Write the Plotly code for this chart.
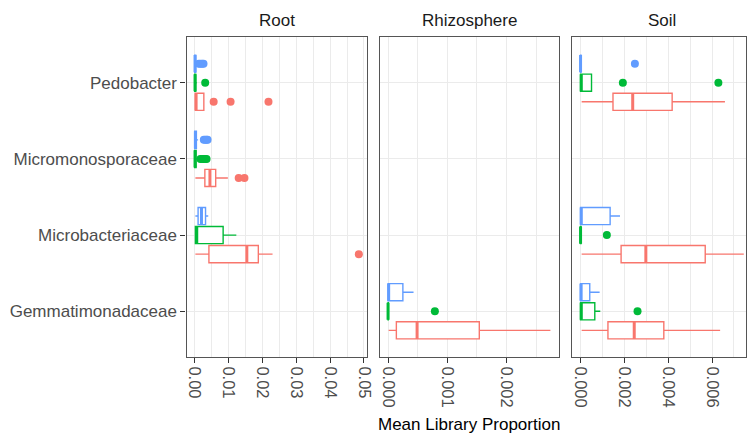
import plotly.graph_objects as go

# Categories from bottom to top of each panel
CATEGORIES = ["Gemmatimonadaceae", "Microbacteriaceae", "Micromonosporaceae", "Pedobacter"]
FACETS = ["Root", "Rhizosphere", "Soil"]

# Box summaries per category: (lower whisker, q1, median, q3, upper whisker); None = no samples
root_red = [None,
            (0.0002, 0.0042, 0.0154, 0.0188, 0.0230),
            (0.0002, 0.0030, 0.0045, 0.0062, 0.0098),
            (0.0001, 0.0002, 0.0004, 0.0027, 0.0027)]
root_red_out = [[], [0.0485], [0.0130, 0.0147], [0.0056, 0.0106, 0.0218]]
root_green = [None,
              (0.0001, 0.0002, 0.0006, 0.0084, 0.0123),
              (0.0000, 0.0000, 0.0001, 0.0004, 0.0010),
              (0.0000, 0.0000, 0.0001, 0.0003, 0.0006)]
root_green_out = [[], [], [0.0017, 0.0022, 0.0027, 0.0031, 0.0035], [0.0031]]
root_blue = [None,
             (0.0002, 0.0010, 0.0020, 0.0032, 0.0040),
             (0.0000, 0.0000, 0.0002, 0.0005, 0.0010),
             (0.0000, 0.0000, 0.0001, 0.0003, 0.0006)]
root_blue_out = [[], [], [0.0027, 0.0031, 0.0035, 0.0038], [0.0012, 0.0017, 0.0022, 0.0026]]

rhizo_red = [(0.00001, 0.00014, 0.00049, 0.00154, 0.00274), None, None, None]
rhizo_red_out = [[], [], [], []]
rhizo_green = [(0.0, 0.0, 0.0, 0.000005, 0.000005), None, None, None]
rhizo_green_out = [[0.00079], [], [], []]
rhizo_blue = [(0.0, 0.0, 0.00001, 0.00025, 0.00043), None, None, None]
rhizo_blue_out = [[], [], [], []]

soil_red = [(0.00005, 0.00125, 0.00245, 0.00380, 0.00637),
            (0.00005, 0.00185, 0.00298, 0.00569, 0.00745),
            None,
            (0.00005, 0.00148, 0.00238, 0.00418, 0.00659)]
soil_red_out = [[], [], [], []]
soil_green = [(0.0, 0.0, 0.00003, 0.00065, 0.00090),
              (0.0, 0.0, 0.0, 0.00002, 0.00002),
              None,
              (0.0, 0.0, 0.00003, 0.00050, 0.00050)]
soil_green_out = [[0.0026], [0.0012], [], [0.00193, 0.00629]]
soil_blue = [(0.0, 0.0, 0.00002, 0.00042, 0.00087),
             (0.0, 0.0, 0.00003, 0.00135, 0.00180),
             None,
             (0.0, 0.0, 0.0, 0.00002, 0.00002)]
soil_blue_out = [[], [], [], [0.00248]]

# Per-facet series: (boxes, outliers) for the red, green and blue groups
FACET_DATA = [
    [(root_red, root_red_out), (root_green, root_green_out), (root_blue, root_blue_out)],
    [(rhizo_red, rhizo_red_out), (rhizo_green, rhizo_green_out), (rhizo_blue, rhizo_blue_out)],
    [(soil_red, soil_red_out), (soil_green, soil_green_out), (soil_blue, soil_blue_out)],
]

# Styling
COLORS = ["#F8766D", "#00BA38", "#619CFF"]
DODGE = [-0.25, 0.0, 0.25]           # vertical offset of each group within a category
BOX_W = 0.225
W, H = 752, 434
FONT = "Liberation Sans, Arial, sans-serif"
GRID = "#EBEBEB"
BORDER = "#555555"

# Panel pixel layout (left, right); last panel runs past the page edge
PANELS_PX = [(188, 370), (383, 563), (577, 758)]
TOP_PX, BOTTOM_PX = 37, 357
TICK_STEP = [0.01, 0.001, 0.002]
TICK_FMT = [".2f", ".3f", ".3f"]

fig = go.Figure()

for fi in range(3):
    sfx = "" if fi == 0 else str(fi + 1)
    xa, ya = "x" + sfx, "y" + sfx
    for gi, (boxes, outs) in enumerate(FACET_DATA[fi]):
        col = COLORS[gi]
        for ci, stats in enumerate(boxes):
            pos = ci + 1 + DODGE[gi]
            if stats is not None:
                lo, q1, med, q3, hi = stats
                fig.add_trace(go.Box(
                    orientation="h", y=[pos], q1=[q1], median=[med], q3=[q3],
                    lowerfence=[lo], upperfence=[hi], width=BOX_W,
                    fillcolor="white", line=dict(color=col, width=1.4),
                    whiskerwidth=0, boxpoints=False, showlegend=False,
                    hoverinfo="skip", xaxis=xa, yaxis=ya))
                fig.add_trace(go.Scatter(
                    x=[med, med], y=[pos - BOX_W / 2, pos + BOX_W / 2],
                    mode="lines", line=dict(color=col, width=3),
                    showlegend=False, hoverinfo="skip", xaxis=xa, yaxis=ya))
            if outs[ci]:
                fig.add_trace(go.Scatter(
                    x=outs[ci], y=[pos] * len(outs[ci]), mode="markers",
                    marker=dict(color=col, size=8, line=dict(width=0)),
                    showlegend=False, hoverinfo="skip", xaxis=xa, yaxis=ya))

layout = dict(
    width=W, height=H, margin=dict(l=0, r=0, t=0, b=0),
    paper_bgcolor="white", plot_bgcolor="white",
    font=dict(family=FONT, size=17, color="#4D4D4D"),
    showlegend=False,
)

y_domain = [1 - BOTTOM_PX / H, 1 - TOP_PX / H]
annotations = []
for fi in range(3):
    sfx = "" if fi == 0 else str(fi + 1)
    # data extent of this facet, expanded by 5% on each side
    vals = []
    for boxes, outs in FACET_DATA[fi]:
        for s in boxes:
            if s is not None:
                vals.extend(s)
        for o in outs:
            vals.extend(o)
    vmin, vmax = min(vals), max(vals)
    span = vmax - vmin
    lo, hi = vmin - 0.05 * span, vmax + 0.05 * span
    left, right = PANELS_PX[fi]
    vis_right = min(right, W)
    hi_vis = lo + (hi - lo) * (vis_right - left) / (right - left)
    layout["xaxis" + sfx] = dict(
        domain=[left / W, vis_right / W], range=[lo, hi_vis], anchor="y" + sfx,
        tick0=0, dtick=TICK_STEP[fi], tickformat=TICK_FMT[fi], tickangle=90,
        ticks="outside", ticklen=5, tickcolor="#333333", tickwidth=1.2,
        tickfont=dict(size=16.5, color="#4D4D4D"),
        showgrid=True, gridcolor=GRID, gridwidth=1.3,
        minor=dict(dtick=TICK_STEP[fi] / 2, showgrid=True, gridcolor=GRID, gridwidth=0.8),
        showline=True, mirror=True, linecolor=BORDER, linewidth=1.3,
        zeroline=False, fixedrange=True)
    yax = dict(
        domain=y_domain, range=[0.4, 4.6], anchor="x" + sfx,
        tickvals=[1, 2, 3, 4], showgrid=True, gridcolor=GRID, gridwidth=1.3,
        showline=True, mirror=True, linecolor=BORDER, linewidth=1.3,
        zeroline=False, fixedrange=True)
    if fi == 0:
        yax.update(ticktext=CATEGORIES, ticks="outside", ticklen=5,
                   tickcolor="#333333", tickwidth=1.2,
                   tickfont=dict(size=17, color="#4D4D4D"))
    else:
        yax.update(showticklabels=False, ticks="")
    layout["yaxis" + sfx] = yax
    annotations.append(dict(
        text=FACETS[fi], x=(left + right) / 2 / W, y=1 - 20 / H,
        xref="paper", yref="paper", xanchor="center", yanchor="middle",
        showarrow=False, font=dict(size=17, color="#1A1A1A")))

annotations.append(dict(
    text="Mean Library Proportion",
    x=(PANELS_PX[0][0] + PANELS_PX[2][1]) / 2 / W, y=1 - 424 / H,
    xref="paper", yref="paper", xanchor="center", yanchor="middle",
    showarrow=False, font=dict(size=17, color="#000000")))
layout["annotations"] = annotations

fig.update_layout(**layout)
fig.write_html("out.html")
